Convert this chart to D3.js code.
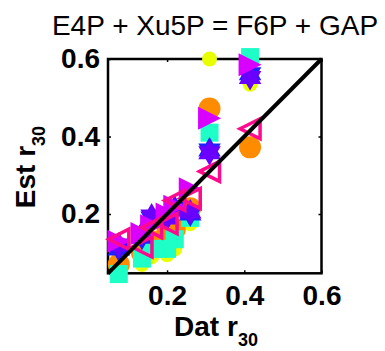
<!DOCTYPE html>
<html>
<head>
<meta charset="utf-8">
<script src="https://cdn.jsdelivr.net/npm/d3@7"></script>
<style>
body{margin:0;background:#fff;}
svg{display:block;font-family:"Liberation Sans",Arial,sans-serif;}
</style>
</head>
<body>
<svg id="c" width="385" height="351"></svg>
<script>
const title = "E4P + Xu5P = F6P + GAP";
const tickValues = [0.2, 0.4, 0.6];
const tickLabels = ["0.2", "0.4", "0.6"];
const axisMin = 0.047, axisMax = 0.6;

const datX    = [0.075, 0.135, 0.16, 0.20, 0.22, 0.26, 0.31, 0.415];
const yellow  = [0.055, 0.070, 0.090, 0.095, 0.110, 0.175, 0.600, 0.535];
const orange  = [0.070, 0.100, 0.130, 0.150, 0.160, 0.215, 0.472, 0.372];
const cyan    = [0.045, 0.085, 0.110, 0.110, 0.135, 0.190, 0.410, 0.605];
const blue    = [0.110, 0.140, 0.190, 0.200, 0.215, 0.200, 0.365, 0.562];
const purple  = [0.120, 0.150, 0.195, 0.190, 0.210, 0.205, 0.358, 0.552];
const magenta = [0.130, 0.150, 0.170, 0.200, 0.220, 0.265, 0.447, 0.585];
const pink    = [0.135, 0.115, 0.165, 0.175, 0.235, 0.240, 0.310, 0.420];

const series = [
  {vals: yellow,  color: "#e8ff00", shape: "circle", r: 7.5},
  {vals: orange,  color: "#ff8c00", shape: "circle", r: 11},
  {vals: cyan,    color: "#1effc8", shape: "square", r: 9},
  {vals: blue,    color: "#2020ff", shape: "hex", r: 13},
  {vals: purple,  color: "#6a00ff", shape: "hex", r: 13},
  {vals: magenta, color: "#d900ff", shape: "triR", r: 11.5},
  {vals: pink,    color: "#ff0a8c", shape: "triLopen", r: 10}
];

const L = 108, R = 321.5, T = 59, B = 273.3;
const svg = d3.select("#c");
const x = d3.scaleLinear().domain([axisMin, axisMax]).range([L, R]);
const y = d3.scaleLinear().domain([axisMin, axisMax]).range([B, T]);

// title
svg.append("text").attr("x", 215).attr("y", 35).attr("text-anchor", "middle")
  .attr("font-size", 28).text(title);

// box
svg.append("rect").attr("x", L).attr("y", T).attr("width", R - L).attr("height", B - T)
  .attr("fill", "none").attr("stroke", "#000").attr("stroke-width", 2.5);

function styleAxis(g, labels) {
  g.select(".domain").remove();
  g.selectAll(".tick line").attr("stroke", "#000").attr("stroke-width", 1.5);
  g.selectAll(".tick text").attr("font-size", 28).attr("font-weight", "bold")
    .attr("fill", "#000").attr("font-family", '"Liberation Sans",Arial,sans-serif');
  if (!labels) g.selectAll(".tick text").remove();
}
const fmt = (d) => tickLabels[tickValues.indexOf(d)];
svg.append("g").attr("transform", `translate(0,${B})`)
  .call(d3.axisBottom(x).tickValues(tickValues).tickFormat(fmt).tickSizeInner(-3).tickSizeOuter(0).tickPadding(12))
  .call(g => styleAxis(g, true));
svg.append("g").attr("transform", `translate(${L},0)`)
  .call(d3.axisLeft(y).tickValues(tickValues).tickFormat(fmt).tickSizeInner(-3).tickSizeOuter(0).tickPadding(8))
  .call(g => styleAxis(g, true));
svg.append("g").attr("transform", `translate(0,${T})`)
  .call(d3.axisTop(x).tickValues(tickValues).tickSizeInner(-3).tickSizeOuter(0))
  .call(g => styleAxis(g, false));
svg.append("g").attr("transform", `translate(${R},0)`)
  .call(d3.axisRight(y).tickValues(tickValues).tickSizeInner(-3).tickSizeOuter(0))
  .call(g => styleAxis(g, false));

// marker path generators
function hexPath(r) {
  const pts = [];
  for (let i = 0; i < 12; i++) {
    const a = -Math.PI / 2 + i * Math.PI / 6;
    const rr = i % 2 === 0 ? r : r / Math.sqrt(3);
    pts.push([rr * Math.cos(a), rr * Math.sin(a)]);
  }
  return "M" + pts.map(p => p.join(",")).join("L") + "Z";
}
function triRPath(r) {
  return `M${r},0L${-r},${-r}L${-r},${r}Z`;
}
function triLPath(r) {
  return `M${-r},0L${r},${-r}L${r},${r}Z`;
}

const marks = svg.append("g");
series.forEach(s => {
  const g = marks.append("g");
  const data = s.vals.map((v, i) => ({dx: datX[i], v}));
  if (s.shape === "circle") {
    g.selectAll("circle").data(data).join("circle")
      .attr("cx", d => x(d.dx)).attr("cy", d => y(d.v)).attr("r", s.r)
      .attr("fill", s.color);
  } else if (s.shape === "square") {
    g.selectAll("rect").data(data).join("rect")
      .attr("x", d => x(d.dx) - s.r).attr("y", d => y(d.v) - s.r)
      .attr("width", 2 * s.r).attr("height", 2 * s.r).attr("fill", s.color);
  } else {
    const p = s.shape === "hex" ? hexPath(s.r) : s.shape === "triR" ? triRPath(s.r) : triLPath(s.r);
    const open = s.shape === "triLopen";
    g.selectAll("path").data(data).join("path")
      .attr("transform", d => `translate(${x(d.dx)},${y(d.v)})`)
      .attr("d", p)
      .attr("fill", open ? "none" : s.color)
      .attr("stroke", open ? s.color : "none")
      .attr("stroke-width", open ? 3.5 : 0);
  }
});

// identity line
svg.append("line")
  .attr("x1", x(axisMin)).attr("y1", y(axisMin))
  .attr("x2", x(axisMax)).attr("y2", y(axisMax))
  .attr("stroke", "#000").attr("stroke-width", 4);

// x label
const xl = svg.append("text").attr("x", 216).attr("y", 336).attr("text-anchor", "middle")
  .attr("font-size", 28).attr("font-weight", "bold");
xl.append("tspan").text("Dat r");
xl.append("tspan").attr("font-size", 18).attr("dy", 10).text("30");

// y label
const yl = svg.append("text").attr("transform", "translate(35,167) rotate(-90)")
  .attr("text-anchor", "middle").attr("font-size", 28).attr("font-weight", "bold");
yl.append("tspan").text("Est r");
yl.append("tspan").attr("font-size", 18).attr("dy", 10).text("30");
</script>
</body>
</html>
